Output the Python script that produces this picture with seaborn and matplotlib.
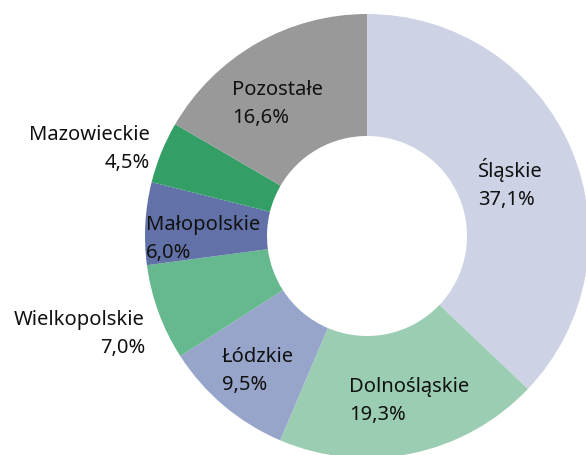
import matplotlib
matplotlib.use('Agg')
import matplotlib.pyplot as plt
import seaborn as sns

# data (clockwise from 12 o'clock)
regions = ['Śląskie', 'Dolnośląskie', 'Łódzkie', 'Wielkopolskie',
           'Małopolskie', 'Mazowieckie', 'Pozostałe']
shares = [37.1, 19.3, 9.5, 7.0, 6.0, 4.5, 16.6]
colors = ['#cdd2e5', '#9acdb2', '#97a5cb', '#66b88e', '#6272a8', '#339f67', '#999999']

sns.set_theme(style='white')
plt.rcParams['font.family'] = ['Noto Sans', 'DejaVu Sans']

fig = plt.figure(figsize=(5.86, 4.56), dpi=100)
ax = fig.add_axes([0, 0, 1, 1])

# centre at pixel (367, 237), radius 222 px
cx, cy, R = 367, 237, 222
ax.pie(shares, colors=sns.color_palette(colors), startangle=90, counterclock=False,
       radius=1, wedgeprops=dict(width=1 - 100 / R, linewidth=0))
ax.set_xlim(-cx / R, (586 - cx) / R)
ax.set_ylim((cy - 456) / R, cy / R)
ax.set_aspect('equal')
ax.axis('off')

# label anchors in pixels: (x, y centre of two-line block, ha)
label_pos = [(478, 184, 'left'), (349, 401, 'left'), (222, 371, 'left'),
             (145, 334, 'right'), (146, 239, 'left'), (150, 149, 'right'),
             (232, 104, 'left')]

for name, val, (px, py, ha) in zip(regions, shares, label_pos):
    txt = f'{name}\n{val:.1f}%'.replace('.', ',')
    ax.text((px - cx) / R, (cy - py) / R, txt, ha=ha, va='center', fontsize=14.5,
            color='#111111', linespacing=1.5, multialignment=ha,
            transform=ax.transData)

fig.savefig('out.png', dpi=100)
